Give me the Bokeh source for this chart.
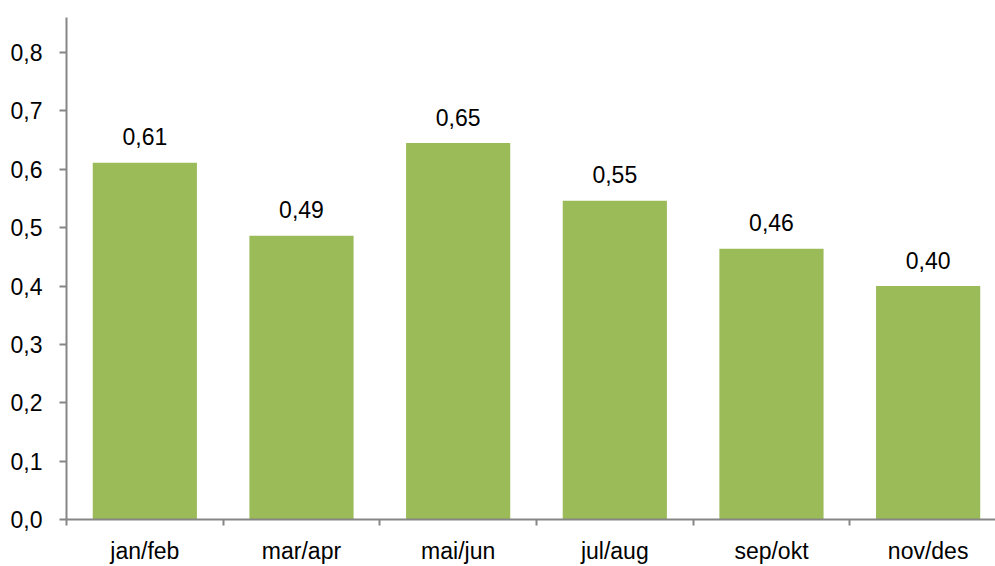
from bokeh.plotting import figure
from bokeh.models import FixedTicker, ColumnDataSource, Range1d
from bokeh.core.properties import value
from bokeh.embed import file_html
from bokeh.resources import INLINE

# data
categories = ["jan/feb", "mar/apr", "mai/jun", "jul/aug", "sep/okt", "nov/des"]
values = [0.611, 0.486, 0.645, 0.546, 0.464, 0.400]
value_labels = ["0,61", "0,49", "0,65", "0,55", "0,46", "0,40"]
y_ticks = [0.0, 0.1, 0.2, 0.3, 0.4, 0.5, 0.6, 0.7, 0.8]

FONT = "Liberation Sans"
GREEN = "#9BBB59"
AXIS = "#868686"

centers = [i + 0.5 for i in range(len(categories))]
bounds = [float(i) for i in range(len(categories) + 1)]

src = ColumnDataSource(dict(x=centers, top=values, lab=value_labels))

p = figure(width=995, height=566, output_backend="svg", toolbar_location=None,
           x_range=Range1d(0, 5.93), y_range=Range1d(0, 0.86),
           min_border_left=66, min_border_right=0, min_border_top=17, min_border_bottom=45)
p.outline_line_color = None
p.xgrid.grid_line_color = None
p.ygrid.grid_line_color = None
p.background_fill_color = "white"
p.border_fill_color = "white"

p.vbar(x="x", top="top", width=0.665, source=src, fill_color=GREEN, line_color=None)
p.text(x="x", y="top", text="lab", source=src, text_align="center", text_baseline="alphabetic",
       y_offset=-26, text_font=value(FONT), text_font_size="23px", text_color="black")

# x axis
xa = p.xaxis[0]
xa.ticker = FixedTicker(ticks=centers, minor_ticks=bounds)
xa.major_label_overrides = {c: lab for c, lab in zip(centers, categories)}
xa.major_tick_out = 0
xa.major_tick_in = 0
xa.minor_tick_out = 6
xa.minor_tick_in = 0
xa.minor_tick_line_color = AXIS
xa.minor_tick_line_width = 2
xa.axis_line_color = AXIS
xa.axis_line_width = 2
xa.major_label_text_font = FONT
xa.major_label_text_font_size = "23px"
xa.major_label_text_color = "black"
xa.major_label_standoff = 12

# y axis
ya = p.yaxis[0]
ya.ticker = FixedTicker(ticks=y_ticks, minor_ticks=[])
ya.major_label_overrides = {t: f"{t:.1f}".replace(".", ",") for t in y_ticks}
ya.major_tick_out = 7
ya.major_tick_in = 0
ya.major_tick_line_color = AXIS
ya.major_tick_line_width = 2
ya.axis_line_color = AXIS
ya.axis_line_width = 2
ya.major_label_text_font = FONT
ya.major_label_text_font_size = "23px"
ya.major_label_text_color = "black"
ya.major_label_standoff = 17

open("out.html", "w").write(file_html(p, INLINE))
